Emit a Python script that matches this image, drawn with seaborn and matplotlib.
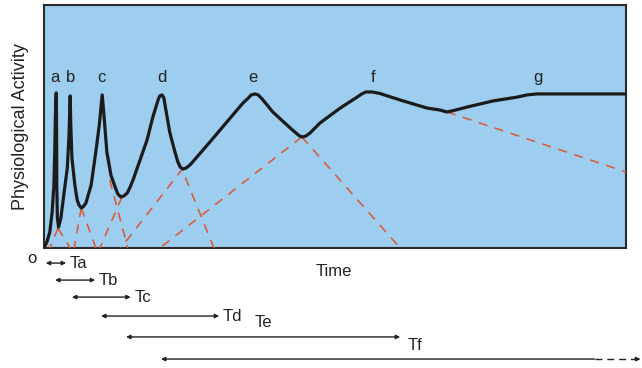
import matplotlib
matplotlib.use("Agg")
import matplotlib.pyplot as plt
import numpy as np
import pandas as pd
import seaborn as sns

sns.set_theme(style="white")
plt.rcParams["font.family"] = ["Liberation Sans", "DejaVu Sans"]

# Physiological activity over time (arbitrary units, 0-100)
activity_time = [0, 0.5, 1.0, 1.4, 1.7, 1.85, 1.95, 2.1,
                 2.15, 2.2, 2.3, 2.5, 2.9, 3.4, 4.0, 4.3, 4.5,
                 4.6, 4.8, 5.3, 5.7, 6.0, 6.4, 6.7, 7.2, 8.1, 8.9, 9.5, 10.0,
                 10.3, 10.8, 11.5, 12.4, 12.7, 13.2, 13.7, 14.3, 14.8, 15.3,
                 16.5, 17.7, 18.7, 19.6, 19.9, 20.3, 20.6,
                 20.8, 21.6, 22.5, 23.0, 23.4, 23.9, 24.4, 25.1, 28.5, 32.0,
                 34.2, 35.1, 35.6, 36.3, 36.8, 37.5, 39.3, 42.3, 43.3, 43.9,
                 44.5, 45.0, 45.7, 47.4, 50.9, 53.8, 54.6, 55.3, 56.4, 57.7,
                 61.2, 65.8, 68.0, 69.2, 70.1, 72.7, 77.1, 81.3, 83.0, 84.7, 100]
activity_level = [0, 2.5, 6.6, 14.8, 25.9, 40.0, 53.5, 63.8,
                  53.5, 25.9, 12.3, 8.6, 12.3, 21.8, 32.9, 46.5, 62.6,
                  50.6, 37.0, 25.9, 19.8, 17.7, 16.5, 16.9, 18.5, 25.9, 39.5, 50.6, 63.0,
                  54.7, 39.5, 30.0, 23.9, 22.2, 21.0, 21.4, 22.6, 25.1, 28.0,
                  36.2, 44.4, 53.9, 60.9, 62.6, 63.0, 61.7,
                  58.8, 47.7, 39.5, 35.4, 33.3, 32.5, 32.9, 34.2, 43.6, 53.5,
                  59.7, 61.7, 63.0, 63.4, 63.0, 61.3, 56.0, 49.4, 47.3, 46.1,
                  45.7, 46.1, 47.3, 51.4, 57.6, 62.1, 63.4, 64.2, 64.2, 63.6,
                  60.9, 57.6, 56.8, 56.0, 56.4, 58.0, 60.5, 62.1, 63.0, 63.4, 63.4]

# Dashed extrapolation lines: (start time, start level, end time, end level)
trend_x0 = [2.4, 2.4, 6.4, 6.4, 13.4, 11.3, 23.9, 23.2, 44.3, 44.3, 69.2]
trend_y0 = [8.2, 8.2, 16.5, 16.5, 21.0, 28.0, 32.9, 35.4, 45.7, 45.7, 56.0]
trend_x1 = [1.0, 4.5, 5.2, 8.9, 9.6, 14.4, 13.2, 29.2, 19.9, 61.2, 100]
trend_y1 = [0, 0, 0, 0, 0, 0, 0, 0, 0, 0, 31.3]

# Peak labels
peak_labels = ["a", "b", "c", "d", "e", "f", "g"]
peak_label_x = [1.9, 4.5, 9.8, 20.3, 35.9, 56.5, 84.9]

# Interval bars below the time axis
interval_names = ["Ta", "Tb", "Tc", "Td"]
interval_start = [0.3, 1.9, 4.8, 9.8]
interval_end = [3.8, 8.8, 14.9, 30.1]
interval_row = [-6.2, -13.2, -20.2, -28.0]

fig = plt.figure(figsize=(6.42, 3.68), dpi=100)
ax = fig.add_axes([44 / 642, 1 - 248 / 368, 582 / 642, 243 / 368])
ax.set_facecolor("#9dcdef")

curve = pd.DataFrame({"time": activity_time, "level": activity_level})
sns.lineplot(data=curve, x="time", y="level", sort=False, estimator=None,
             color="#1b1b1b", linewidth=2.3, ax=ax, zorder=4,
             solid_joinstyle="round", solid_capstyle="round")

seg_rows = []
for i, (x0, y0, x1, y1) in enumerate(zip(trend_x0, trend_y0, trend_x1, trend_y1)):
    seg_rows.append({"seg": i, "time": x0, "level": y0})
    seg_rows.append({"seg": i, "time": x1, "level": y1})
segs = pd.DataFrame(seg_rows)
sns.lineplot(data=segs, x="time", y="level", units="seg", estimator=None,
             sort=False, color="#e0552f", linewidth=1.1, ax=ax, zorder=3,
             linestyle=(0, (6, 5)))

for lab, lx in zip(peak_labels, peak_label_x):
    ax.text(lx, 70, lab, ha="center", va="center", fontsize=12, color="#222222")

ax.set_xlim(0, 100)
ax.set_ylim(0, 100)
ax.set_xticks([])
ax.set_yticks([])
ax.set_xlabel("")
ax.set_ylabel("Physiological Activity", fontsize=13, color="#222222", labelpad=11)
for side in ax.spines.values():
    side.set_color("#2a2a2a")
    side.set_linewidth(1.5)
    side.set_visible(True)

arrow_kw = dict(arrowstyle="<|-|>", color="#222222", lw=1.0,
                mutation_scale=6, shrinkA=0, shrinkB=0)
for name, x0, x1, yr in zip(interval_names, interval_start, interval_end, interval_row):
    ax.annotate("", xy=(x1, yr), xytext=(x0, yr), arrowprops=arrow_kw,
                annotation_clip=False)
    ax.text(x1 + 0.6, yr, name, ha="left", va="center", fontsize=12,
            color="#222222", clip_on=False)

# Te / Tf bars
ax.annotate("", xy=(61.2, -36.6), xytext=(14.1, -36.6),
            arrowprops=dict(arrowstyle="<|-|>", color="#222222", lw=1.0,
                            mutation_scale=6, shrinkA=0, shrinkB=0),
            annotation_clip=False)
ax.text(36.2, -30.5, "Te", ha="left", va="center", fontsize=12, color="#222222")
ax.text(62.4, -40.0, "Tf", ha="left", va="center", fontsize=12, color="#222222")

# Open-ended bar for g
ax.annotate("", xy=(94.6, -45.7), xytext=(20.1, -45.7),
            arrowprops=dict(arrowstyle="<|-", color="#222222", lw=1.0,
                            mutation_scale=6, shrinkA=0, shrinkB=0),
            annotation_clip=False)
ax.plot([94.6, 101.6], [-45.7, -45.7], color="#222222", lw=1.0,
        linestyle=(0, (5, 3.5)), clip_on=False)
ax.annotate("", xy=(102.5, -45.7), xytext=(101.5, -45.7),
            arrowprops=dict(arrowstyle="-|>", color="#222222", lw=1.0,
                            mutation_scale=6, shrinkA=0, shrinkB=0),
            annotation_clip=False)

ax.text(-2.1, -4.3, "o", ha="center", va="center", fontsize=12, color="#222222")
ax.text(49.8, -9.5, "Time", ha="center", va="center", fontsize=12, color="#222222")

fig.savefig("out.png", dpi=100)
